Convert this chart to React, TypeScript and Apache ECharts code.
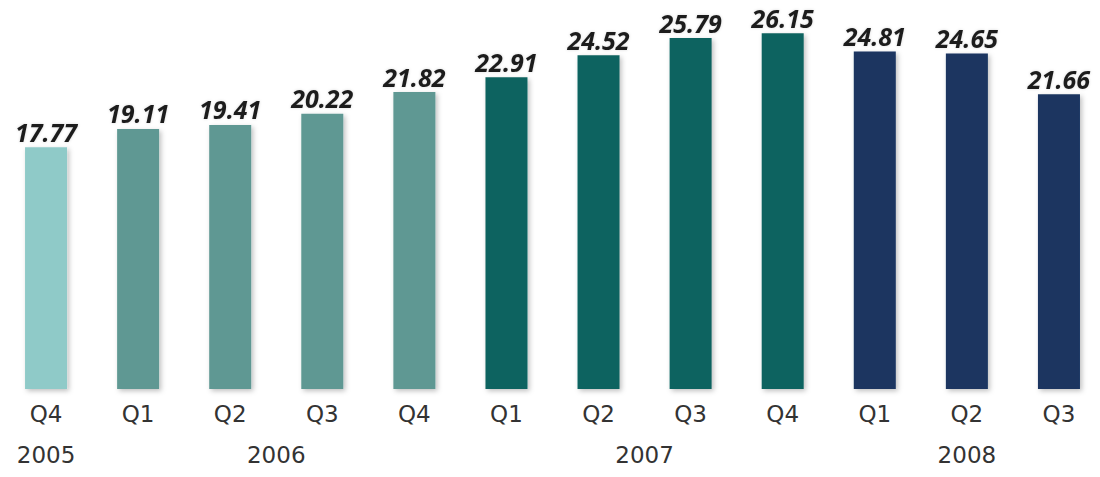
import React, { useEffect, useRef } from "react";
import * as echarts from "echarts";

const quarters = ["Q4", "Q1", "Q2", "Q3", "Q4", "Q1", "Q2", "Q3", "Q4", "Q1", "Q2", "Q3"];
const values = [17.77, 19.11, 19.41, 20.22, 21.82, 22.91, 24.52, 25.79, 26.15, 24.81, 24.65, 21.66];
const years = ["2005", "2006", "2007", "2008"];
const yearOfBar = [0, 1, 1, 1, 1, 2, 2, 2, 2, 3, 3, 3];

const yearColors = ["#8fcac8", "#5f9893", "#0e6461", "#1a3461"];

export default function App() {
  const ref = useRef<HTMLDivElement>(null);
  useEffect(() => {
    if (!ref.current) return;
    const chart = echarts.init(ref.current, null, { renderer: "svg" });

    // center position (in category index units) of each year group
    const yearCenters: { [k: string]: string } = {};
    years.forEach((y, yi) => {
      const idx = yearOfBar.map((g, i) => (g === yi ? i : -1)).filter((i) => i >= 0);
      const c = (idx[0] + idx[idx.length - 1]) / 2;
      yearCenters[c.toFixed(1)] = y;
    });

    chart.setOption({
      animation: false,
      backgroundColor: "#ffffff",
      grid: { left: 0, right: -5, top: 8, bottom: 88, outerBoundsMode: "none", containLabel: false },
      xAxis: [
        {
          type: "category",
          data: quarters,
          boundaryGap: true,
          axisLine: { show: false },
          axisTick: { show: false },
          axisLabel: {
            margin: 13,
            fontFamily: "DejaVu Sans",
            fontSize: 23,
            color: "#333333",
          },
        },
        {
          type: "value",
          position: "bottom",
          min: -0.5,
          max: quarters.length - 0.5,
          interval: 0.5,
          splitLine: { show: false },
          axisLine: { show: false },
          axisTick: { show: false },
          axisLabel: {
            margin: 54,
            showMinLabel: true,
            showMaxLabel: true,
            hideOverlap: false,
            fontFamily: "DejaVu Sans",
            fontSize: 23,
            color: "#333333",
            formatter: (v: number) => yearCenters[v.toFixed(1)] || "",
          },
        },
      ],
      yAxis: {
        type: "value",
        min: 0,
        max: 28,
        show: false,
        splitLine: { show: false },
      },
      series: [
        {
          type: "bar",
          xAxisIndex: 0,
          barWidth: 42,
          data: values.map((v, i) => ({
            value: v,
            itemStyle: { color: yearColors[yearOfBar[i]] },
          })),
          itemStyle: {
            shadowBlur: 5,
            shadowColor: "rgba(0,0,0,0.25)",
            shadowOffsetX: 2,
            shadowOffsetY: 2,
          },
          label: {
            show: true,
            position: "top",
            distance: 3,
            fontFamily: "Open Sans",
            fontSize: 25,
            fontWeight: "bold",
            fontStyle: "italic",
            color: "#1e1e1e",
            formatter: (p: any) => p.value.toFixed(2),
            textShadowColor: "rgba(0,0,0,0.15)",
            textShadowBlur: 3,
          },
        },
      ],
    });
    return () => chart.dispose();
  }, []);
  return (
    <div
      ref={ref}
      style={{ position: "absolute", left: 0, top: 0, width: 1100, height: 477 }}
    />
  );
}
